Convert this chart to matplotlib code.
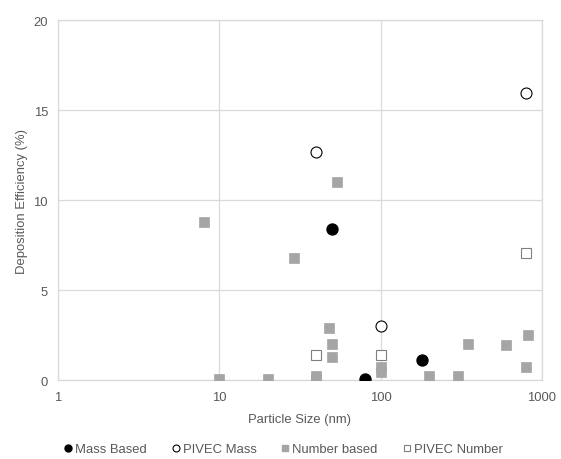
import matplotlib
matplotlib.use("Agg")
import matplotlib.pyplot as plt
from matplotlib.lines import Line2D

plt.rcParams['font.family'] = ['Liberation Sans', 'DejaVu Sans']

# Deposition efficiency (%) vs particle size (nm)
mass_size = [50, 80, 180]
mass_eff = [8.4, 0.08, 1.1]

pivec_mass_size = [40, 100, 800]
pivec_mass_eff = [12.65, 3.0, 15.95]

number_size = [8, 10, 20, 29, 40, 40, 48, 50, 50, 54, 100, 100, 200, 300, 350, 600, 800, 820]
number_eff = [8.8, 0.05, 0.05, 6.8, 0.2, 0.05, 2.9, 2.0, 1.28, 11.0, 0.7, 0.42, 0.2, 0.2, 2.0, 1.95, 0.7, 2.5]

pivec_number_size = [40, 100, 800]
pivec_number_eff = [1.4, 1.4, 7.05]

x_ticks = [1, 10, 100, 1000]
y_ticks = [0, 5, 10, 15, 20]

grid_col = '#D9D9D9'
text_col = '#595959'
fs = 9.4

fig = plt.figure(figsize=(5.61, 4.60), dpi=100)
ax = fig.add_axes([0.1029, 0.1717, 0.8632, 0.782])

ms = 7.9
ax.plot(mass_size, mass_eff, linestyle='none', marker='o', ms=ms,
        mfc='black', mec='black', zorder=4)
ax.plot(pivec_mass_size, pivec_mass_eff, linestyle='none', marker='o', ms=ms,
        mfc='white', mec='black', mew=0.8, zorder=4)
ax.plot(number_size, number_eff, linestyle='none', marker='s', ms=ms,
        mfc='#A5A5A5', mec='#A5A5A5', mew=0.5, zorder=3)
ax.plot(pivec_number_size, pivec_number_eff, linestyle='none', marker='s', ms=ms,
        mfc='white', mec='#7F7F7F', mew=0.8, zorder=3)

ax.set_xscale('log')
ax.set_xlim(1, 1000)
ax.set_ylim(0, 20)
ax.set_xticks(x_ticks)
ax.set_xticklabels([str(v) for v in x_ticks])
ax.xaxis.set_minor_locator(matplotlib.ticker.NullLocator())
ax.set_yticks(y_ticks)
ax.grid(True, color=grid_col, linewidth=0.9)
ax.set_axisbelow(True)
for s in ax.spines.values():
    s.set_color(grid_col)
    s.set_linewidth(0.9)
ax.tick_params(length=0, labelsize=fs, labelcolor=text_col, pad=8)
ax.tick_params(axis='y', pad=7)

ax.set_xlabel('Particle Size (nm)', fontsize=fs, color=text_col, labelpad=7)
ax.set_ylabel('Deposition Efficiency (%)', fontsize=fs, color=text_col, labelpad=4)

handles = [
    Line2D([], [], linestyle='none', marker='o', ms=5, mfc='black', mec='black'),
    Line2D([], [], linestyle='none', marker='o', ms=5, mfc='white', mec='black', mew=0.8),
    Line2D([], [], linestyle='none', marker='s', ms=5, mfc='#A5A5A5', mec='#A5A5A5'),
    Line2D([], [], linestyle='none', marker='s', ms=5, mfc='white', mec='#7F7F7F', mew=0.8),
]
labels = ['Mass Based', 'PIVEC Mass', 'Number based', 'PIVEC Number']
fig.legend(handles, labels, loc='center', bbox_to_anchor=(0.505, 0.021), ncol=4,
           frameon=False, fontsize=fs, labelcolor=text_col, handlelength=0.6,
           handletextpad=0.25, columnspacing=1.9, borderaxespad=0)

fig.savefig('out.png', dpi=100)
